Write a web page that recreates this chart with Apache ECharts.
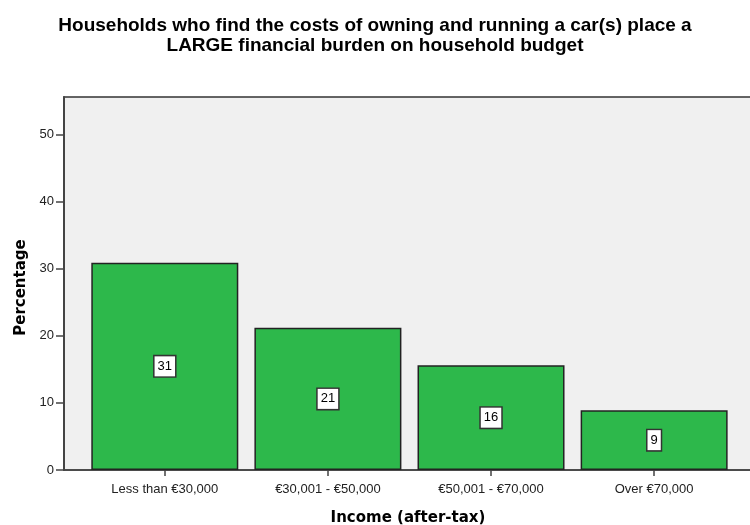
<!DOCTYPE html>
<html><head><meta charset="utf-8">
<script src="https://cdn.jsdelivr.net/npm/echarts@6/dist/echarts.min.js"></script>
<style>html,body{margin:0;padding:0;background:#fff}#c{width:750px;height:525px}</style>
</head><body><div id="c"></div>
<script>
var categories = ["Less than €30,000", "€30,001 - €50,000", "€50,001 - €70,000", "Over €70,000"];
var values = [30.9, 21.2, 15.6, 8.9];
var labels = ["31", "21", "16", "9"];
var yTicks = [0, 10, 20, 30, 40, 50];
var xTicks = [0, 1, 2, 3];

var chart = echarts.init(document.getElementById('c'));
var font = "Liberation Sans, Arial, sans-serif";
var bfont = "DejaVu Sans, Verdana, sans-serif";
chart.setOption({
  animation: false,
  title: {
    text: "Households who find the costs of owning and running a car(s) place a\nLARGE financial burden on household budget",
    left: 'center', top: 11,
    textStyle: {fontFamily: font, fontSize: 19, fontWeight: 'bold', color: '#000', lineHeight: 20}
  },
  grid: {left: 64, top: 97, right: -2, bottom: 55, outerBoundsMode: 'none', containLabel: false,
    show: true, backgroundColor: '#f0f0f0', borderColor: '#333', borderWidth: 1.5},
  xAxis: {
    type: 'value', min: -0.618, max: 3.6,
    splitLine: {show: false},
    axisLine: {show: true, onZero: false, lineStyle: {color: '#444', width: 1.5}},
    axisTick: {show: true, length: 6, inside: false, customValues: xTicks, lineStyle: {color: '#444', width: 1.5}},
    axisLabel: {customValues: xTicks, formatter: function(v){ return categories[Math.round(v)]; },
      fontFamily: font, fontSize: 13, color: '#222', margin: 13},
    name: 'Income (after-tax)', nameLocation: 'middle', nameGap: 41,
    nameTextStyle: {fontFamily: bfont, fontSize: 15, fontWeight: 'bold', color: '#000'}
  },
  yAxis: {
    type: 'value', min: 0, max: 55.6, interval: 10,
    splitLine: {show: false},
    axisLine: {show: true, onZero: false, lineStyle: {color: '#444', width: 2}},
    axisTick: {show: true, length: 8, lineStyle: {color: '#444', width: 1.5}, customValues: yTicks},
    axisLabel: {customValues: yTicks, fontFamily: font, fontSize: 13, color: '#222', margin: 10},
    name: 'Percentage', nameLocation: 'middle', nameGap: 34,
    nameTextStyle: {fontFamily: bfont, fontSize: 15, fontWeight: 'bold', color: '#000', padding: [0, 8, 0, 0]}
  },
  series: [{
    type: 'bar',
    barWidth: 147,
    data: values.map(function(v, i){ return [i, v]; }),
    itemStyle: {color: '#2db84b', borderColor: '#222', borderWidth: 1.5},
    label: {
      show: true, position: 'inside',
      formatter: function(p){ return labels[p.dataIndex]; },
      fontFamily: font, fontSize: 13, color: '#000',
      backgroundColor: '#fff', borderColor: '#333', borderWidth: 1.5,
      padding: [4, 3, 3, 3]
    }
  }]
});
</script></body></html>
